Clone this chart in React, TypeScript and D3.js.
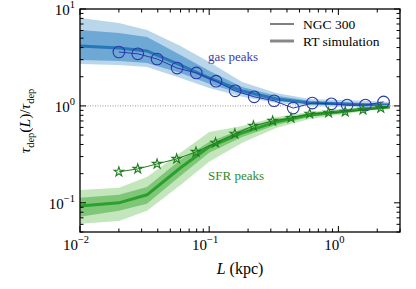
import * as d3 from "d3";

// RT simulation grid (kpc)
const simL = [0.01, 0.02, 0.033, 0.06, 0.1, 0.18, 0.33, 0.6, 1.0, 1.6, 2.5];

const gasMed = [4.15, 3.96, 3.69, 2.64, 1.94, 1.43, 1.18, 1.07, 1.05, 1.02, 1.02];
const gasDarkLo = [2.98, 2.91, 2.77, 2.19, 1.69, 1.33, 1.13, 1.05, 1.02, 1.0, 1.0];
const gasDarkHi = [6.08, 5.66, 5.14, 3.36, 2.3, 1.57, 1.27, 1.13, 1.1, 1.07, 1.05];
const gasLightLo = [2.71, 2.65, 2.52, 1.94, 1.53, 1.24, 1.07, 1.0, 0.98, 0.98, 0.98];
const gasLightHi = [8.07, 7.17, 6.08, 4.15, 2.84, 1.77, 1.36, 1.18, 1.15, 1.13, 1.1];

const sfrMed = [0.093, 0.1, 0.121, 0.23, 0.378, 0.527, 0.684, 0.808, 0.867, 0.931, 0.977];
const sfrDarkLo = [0.072, 0.083, 0.098, 0.19, 0.328, 0.479, 0.637, 0.77, 0.837, 0.91, 0.954];
const sfrDarkHi = [0.113, 0.121, 0.146, 0.278, 0.425, 0.579, 0.734, 0.847, 0.91, 0.965, 1.0];
const sfrLightLo = [0.061, 0.065, 0.083, 0.153, 0.265, 0.416, 0.593, 0.734, 0.808, 0.888, 0.931];
const sfrLightHi = [0.136, 0.143, 0.185, 0.328, 0.539, 0.622, 0.77, 0.867, 0.931, 0.977, 1.024];

// NGC 300 observations
const gasL = [0.02, 0.028, 0.0395, 0.0565, 0.0795, 0.113, 0.159, 0.223, 0.318, 0.447, 0.628, 0.883, 1.17, 1.62, 2.24];
const gasObs = [3.6, 3.45, 3.05, 2.46, 2.19, 1.8, 1.43, 1.24, 1.13, 0.95, 1.07, 1.05, 1.02, 1.02, 1.1];
const sfrL = [0.02, 0.028, 0.0395, 0.056, 0.079, 0.112, 0.158, 0.22, 0.31, 0.43, 0.6, 0.84, 1.13, 1.55, 2.13];
const sfrObs = [0.209, 0.224, 0.252, 0.284, 0.335, 0.416, 0.515, 0.622, 0.7, 0.75, 0.83, 0.85, 0.87, 0.91, 0.95];

const xMajor = [0.01, 0.1, 1];
const xMajorExp = ["−2", "−1", "0"];
const yMajor = [0.1, 1, 10];
const yMajorExp = ["−1", "0", "1"];

const W = 416, H = 289;
const mL = 80, mR = 400, mT = 9, mB = 232;
const serif = "Liberation Serif";

export default function App() {
  const x = d3.scaleLog().domain([0.01, 3]).range([mL, mR]);
  const y = d3.scaleLog().domain([0.05, 10]).range([mB, mT]);

  const band = (lo: number[], hi: number[]) =>
    d3.area<number>().x((_, i) => x(simL[i])).y0((_, i) => y(lo[i])).y1((_, i) => y(hi[i]))(simL) || "";
  const simLine = (v: number[]) =>
    d3.line<number>().x((_, i) => x(simL[i])).y((_, i) => y(v[i]))(simL) || "";
  const obsLine = (ls: number[], v: number[]) =>
    d3.line<number>().x((d) => x(d)).y((_, i) => y(v[i]))(ls) || "";

  const xMinor: number[] = [];
  for (const dec of [0.01, 0.1, 1]) for (let k = 2; k <= 9; k++) { const v = dec * k; if (v <= 3.0001) xMinor.push(v); }
  const yMinor: number[] = [];
  for (const dec of [0.01, 0.1, 1]) for (let k = 2; k <= 9; k++) { const v = dec * k; if (v >= 0.05 && v < 10) yMinor.push(v); }

  const star = d3.symbol(d3.symbolStar, 28)() || "";

  return (
    <svg width={W} height={H} style={{ position: "absolute", left: 0, top: 0, background: "#fff" }}>
      {/* reference line */}
      <line x1={mL} x2={mR} y1={y(1)} y2={y(1)} stroke="#999" strokeWidth={1} strokeDasharray="1,1.5" />

      {/* RT simulation bands */}
      <path d={band(gasLightLo, gasLightHi)} fill="#b9d6eb" />
      <path d={band(gasDarkLo, gasDarkHi)} fill="#6ea8d4" />
      <path d={simLine(gasMed)} fill="none" stroke="#2776b6" strokeWidth={3} />
      <path d={band(sfrLightLo, sfrLightHi)} fill="#c3e6bc" />
      <path d={band(sfrDarkLo, sfrDarkHi)} fill="#80c678" />
      <path d={simLine(sfrMed)} fill="none" stroke="#2ca02c" strokeWidth={3} />

      {/* NGC 300 */}
      <path d={obsLine(gasL, gasObs)} fill="none" stroke="#2b38aa" strokeWidth={1} />
      {gasL.map((l, i) => (
        <circle key={"g" + i} cx={x(l)} cy={y(gasObs[i])} r={5.8} fill="none" stroke="#2b38aa" strokeWidth={1.1} />
      ))}
      <path d={obsLine(sfrL, sfrObs)} fill="none" stroke="#1f7f1f" strokeWidth={1} />
      {sfrL.map((l, i) => (
        <path key={"s" + i} d={star} transform={`translate(${x(l)},${y(sfrObs[i])})`} fill="none" stroke="#1f7f1f" strokeWidth={1.1} />
      ))}

      {/* labels in plot */}
      <text x={208} y={61} fontFamily={serif} fontSize={13} fill="#3b3bab">gas peaks</text>
      <text x={208} y={180} fontFamily={serif} fontSize={13} fill="#2e8b2e">SFR peaks</text>

      {/* legend */}
      <line x1={270} x2={294} y1={24} y2={24} stroke="#000" strokeWidth={1} />
      <text x={303} y={28.5} fontFamily={serif} fontSize={13.5}>NGC 300</text>
      <line x1={270} x2={294} y1={41} y2={41} stroke="#888" strokeWidth={3} />
      <text x={303} y={45.5} fontFamily={serif} fontSize={13.5}>RT simulation</text>

      {/* ticks */}
      <g stroke="#000" strokeWidth={1}>
        {xMajor.map((v) => (
          <g key={"xM" + v}>
            <line x1={x(v)} x2={x(v)} y1={mB} y2={mB - 6} />
            <line x1={x(v)} x2={x(v)} y1={mT} y2={mT + 6} />
          </g>
        ))}
        {xMinor.map((v) => (
          <g key={"xm" + v}>
            <line x1={x(v)} x2={x(v)} y1={mB} y2={mB - 3.5} />
            <line x1={x(v)} x2={x(v)} y1={mT} y2={mT + 3.5} />
          </g>
        ))}
        {yMajor.map((v) => (
          <g key={"yM" + v}>
            <line x1={mL} x2={mL + 6} y1={y(v)} y2={y(v)} />
            <line x1={mR} x2={mR - 6} y1={y(v)} y2={y(v)} />
          </g>
        ))}
        {yMinor.map((v) => (
          <g key={"ym" + v}>
            <line x1={mL} x2={mL + 3.5} y1={y(v)} y2={y(v)} />
            <line x1={mR} x2={mR - 3.5} y1={y(v)} y2={y(v)} />
          </g>
        ))}
      </g>
      <rect x={mL} y={mT} width={mR - mL} height={mB - mT} fill="none" stroke="#000" strokeWidth={1.3} />

      {/* tick labels */}
      {xMajor.map((v, i) => (
        <text key={"xl" + v} x={x(v) - 4} y={mB + 18} textAnchor="middle" fontFamily={serif} fontSize={15}>
          10<tspan dy={-7} fontSize={10.5}>{xMajorExp[i]}</tspan>
        </text>
      ))}
      {yMajor.map((v, i) => (
        <text key={"yl" + v} x={75} y={y(v) + 6} textAnchor="end" fontFamily={serif} fontSize={15}>
          10<tspan dy={-7} fontSize={10.5}>{yMajorExp[i]}</tspan>
        </text>
      ))}

      {/* axis labels */}
      <text x={240} y={274} textAnchor="middle" fontFamily={serif} fontSize={16}>
        <tspan fontStyle="italic">L</tspan> (kpc)
      </text>
      <text transform={`translate(30,121) rotate(-90)`} textAnchor="middle" fontFamily={serif} fontSize={15.5}>
        <tspan fontStyle="italic">τ</tspan>
        <tspan fontSize={10.5} dy={4}>dep</tspan>
        <tspan dy={-4}>(</tspan>
        <tspan fontStyle="italic">L</tspan>
        <tspan>)/</tspan>
        <tspan fontStyle="italic">τ</tspan>
        <tspan fontSize={10.5} dy={4}>dep</tspan>
      </text>
    </svg>
  );
}
